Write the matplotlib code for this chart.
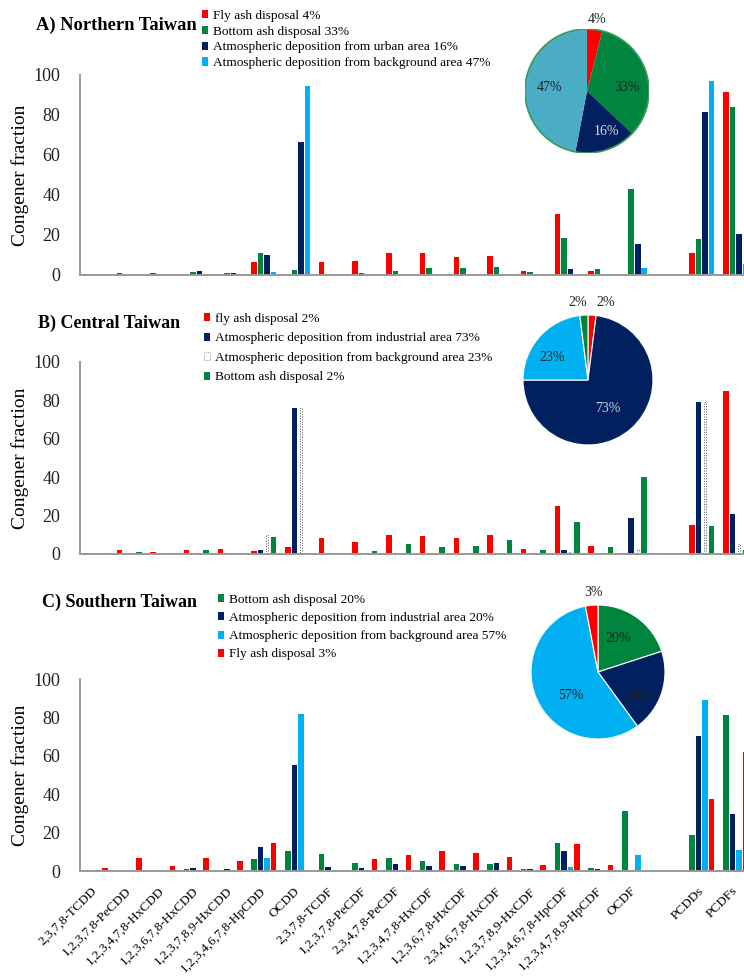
import matplotlib.pyplot as plt
import numpy as np
from matplotlib.patches import Patch, Circle

plt.rcParams['font.family'] = ['Liberation Serif', 'DejaVu Serif']

# ---- data ----
congeners = ['2,3,7,8-TCDD', '1,2,3,7,8-PeCDD', '1,2,3,4,7,8-HxCDD', '1,2,3,6,7,8-HxCDD',
             '1,2,3,7,8,9-HxCDD', '1,2,3,4,6,7,8-HpCDD', 'OCDD', '2,3,7,8-TCDF',
             '1,2,3,7,8-PeCDF', '2,3,4,7,8-PeCDF', '1,2,3,4,7,8-HxCDF', '1,2,3,6,7,8-HxCDF',
             '2,3,4,6,7,8-HxCDF', '1,2,3,7,8,9-HxCDF', '1,2,3,4,6,7,8-HpCDF',
             '1,2,3,4,7,8,9-HpCDF', 'OCDF', 'PCDDs', 'PCDFs']

# A) Northern Taiwan
north_fly = [0.5, 0.8, 1, 0, 0, 6.7, 0, 6.5, 6.8, 11.2, 10.8, 8.8, 9.3, 2, 30.3, 2, 0.3, 10.8, 91.7]
north_bottom = [0, 0, 0, 1.5, 1.2, 11.2, 2.7, 0.3, 1.2, 2.2, 3.7, 3.5, 4.2, 1.5, 18.4, 2.8, 42.8, 17.8, 84]
north_urban = [0, 0.5, 0, 1.8, 1.2, 9.8, 66.5, 0, 0, 0, 0, 0, 0.5, 0, 2.8, 0, 15.6, 81.6, 20.6]
north_bg = [0, 0, 0, 0, 0, 1.7, 94.4, 0, 0, 0, 0, 0, 0, 0, 0.5, 0, 3.4, 96.8, 5.4]
north_share = [4, 33, 16, 47]

# B) Central Taiwan
central_fly = [0.3, 2.0, 1.0, 1.9, 2.7, 1.5, 3.8, 8.4, 6.0, 9.7, 9.4, 8.5, 9.7, 2.7, 24.8, 4.3, 0, 15.2, 85]
central_ind = [0.3, 0, 0, 0.3, 0, 1.9, 76, 0, 0, 0, 0, 0, 0, 0, 2, 0, 18.8, 79, 21]
central_bg = [0, 0, 0, 0, 0, 9.7, 76, 0, 0, 0, 0, 0, 0, 0, 1, 0, 2, 79, 5]
central_bottom = [0, 0.9, 0.3, 2, 0.4, 8.9, 0, 0, 1.7, 5.0, 3.8, 4.1, 7.4, 2.2, 16.9, 3.6, 40, 14.5, 2]
central_share = [2, 73, 23, 2]

# C) Southern Taiwan
south_bottom = [0, 0.3, 0, 0.9, 0.5, 6.1, 10.5, 8.7, 4.4, 7.0, 5.2, 3.5, 3.5, 1, 14.5, 1.7, 31, 19, 81]
south_ind = [0, 0, 0, 1.4, 0.9, 12.4, 55, 1.9, 1.4, 3.5, 2.6, 2.6, 4.4, 0.9, 10.5, 0.9, 0, 70.5, 29.5]
south_bg = [0, 0, 0, 0, 0, 6.6, 82, 0, 0, 0, 0, 0, 0, 0, 2.3, 0, 8.4, 89, 11]
south_fly = [1.4, 6.6, 2.8, 6.6, 5.2, 14.4, 0, 0, 6.1, 8.2, 10.5, 9.6, 7.5, 3.3, 14.2, 3.1, 0, 37.5, 62]
south_share = [20, 20, 57, 3]

RED = '#ff0000'
GREEN = '#00853f'
NAVY = '#002060'
CYAN = '#00b0f0'
STEEL = '#4bacc6'

W, H = 744, 976
fig = plt.figure(figsize=(W / 100, H / 100), dpi=100)


def box(l, t, r, b):
    return [l / W, 1 - b / H, (r - l) / W, (b - t) / H]


pos = np.r_[np.arange(17), 18, 19]
step = 0.193


def bar_panel(rect, series, show_x=False):
    ax = fig.add_axes(rect)
    for k, (vals, color, style) in enumerate(series):
        x = pos + (k - 1.5) * step
        if style == 'dotted':
            ax.bar(x, vals, step * 0.3, color='white', edgecolor='#555555',
                   linestyle=':', linewidth=0.7, clip_on=False)
        else:
            ax.bar(x, vals, step * 0.85, color=color, clip_on=False)
    ax.set_xlim(-0.457, 19.25)
    ax.set_ylim(0, 100)
    ax.set_yticks(range(0, 101, 20))
    ax.tick_params(axis='y', length=0, labelsize=13, pad=14, labelcolor='#222222')
    ax.tick_params(axis='x', length=0)
    for s in ['top', 'right']:
        ax.spines[s].set_visible(False)
    for s in ['left', 'bottom']:
        ax.spines[s].set_color('#999999')
        ax.spines[s].set_linewidth(1.4)
    if show_x:
        ax.set_xticks(pos)
        ax.set_xticklabels(congeners, rotation=45, ha='right', va='center',
                           rotation_mode='anchor', fontsize=9.5)
        ax.tick_params(axis='x', pad=13)
    else:
        ax.set_xticks([])
    r = ax.get_position()
    fig.text(20 / W, r.y0 + r.height / 2, 'Congener fraction', rotation=90,
             ha='center', va='center', fontsize=14)
    return ax


def make_legend(entries, x, y, spacing):
    handles = []
    for color, label, style in entries:
        if style == 'dotted':
            handles.append(Patch(facecolor='white', edgecolor='#777777', linestyle=':',
                                 linewidth=0.6, label=label))
        else:
            handles.append(Patch(facecolor=color, label=label))
    fig.legend(handles=handles, loc='upper left', bbox_to_anchor=(x / W, 1 - y / H),
               frameon=False, fontsize=9.6, handlelength=0.45, handleheight=0.55,
               handletextpad=0.35, labelspacing=spacing, borderpad=0, borderaxespad=0)


def pie_panel(cx, cy, r, shares, colors, labels, label_pos, label_colors, edge, outline=None):
    ax = fig.add_axes(box(cx - r, cy - r, cx + r, cy + r))
    wp = dict(edgecolor=edge, linewidth=0.8) if edge else dict(linewidth=0)
    ax.pie(shares, colors=colors, startangle=90, counterclock=False, radius=1,
           wedgeprops=wp)
    if outline:
        ax.add_patch(Circle((0, 0), 1, fill=False, edgecolor=outline, linewidth=1.2))
    for lab, (lx, ly), lc in zip(labels, label_pos, label_colors):
        ax.text(lx, ly, lab, ha='center', va='center', fontsize=10, color=lc)
    ax.set_xlim(-1, 1)
    ax.set_ylim(-1, 1)
    ax.set_aspect('equal')
    ax.axis('off')


# ---- A) Northern Taiwan ----
bar_panel(box(80, 75, 744, 275), [
    (north_fly, RED, 'bar'),
    (north_bottom, GREEN, 'bar'),
    (north_urban, NAVY, 'bar'),
    (north_bg, CYAN, 'bar'),
])
fig.text(36 / W, 1 - 25 / H, 'A) Northern Taiwan', fontsize=13.3, fontweight='bold', va='center')
make_legend([(RED, 'Fly ash disposal 4%', 'bar'),
             (GREEN, 'Bottom ash disposal 33%', 'bar'),
             (NAVY, 'Atmospheric deposition from urban area 16%', 'bar'),
             (CYAN, 'Atmospheric deposition from background area 47%', 'bar')],
            202, 10, 0.28)
pie_panel(587, 91, 62, north_share, [RED, GREEN, NAVY, STEEL],
          ['4%', '33%', '16%', '47%'],
          [(0.16, 1.16), (0.65, 0.05), (0.32, -0.65), (-0.6, 0.05)],
          ['#222222', '#222222', '#dddddd', '#222222'], None, outline='#3a9a5a')

# ---- B) Central Taiwan ----
bar_panel(box(80, 362, 744, 554), [
    (central_fly, RED, 'bar'),
    (central_ind, NAVY, 'bar'),
    (central_bg, 'white', 'dotted'),
    (central_bottom, GREEN, 'bar'),
])
fig.text(38 / W, 1 - 323 / H, 'B) Central Taiwan', fontsize=13, fontweight='bold', va='center')
make_legend([(RED, 'fly ash disposal 2%', 'bar'),
             (NAVY, 'Atmospheric deposition from industrial area 73%', 'bar'),
             ('white', 'Atmospheric deposition from background area 23%', 'dotted'),
             (GREEN, 'Bottom ash disposal 2%', 'bar')],
            204, 313, 0.56)
pie_panel(588, 380, 65, central_share, [RED, NAVY, CYAN, GREEN],
          ['2%', '73%', '23%', '2%'],
          [(0.27, 1.19), (0.31, -0.44), (-0.55, 0.34), (-0.16, 1.19)],
          ['#222222', '#c9d0e0', '#222222', '#222222'], 'white')

# ---- C) Southern Taiwan ----
bar_panel(box(80, 679, 744, 871), [
    (south_bottom, GREEN, 'bar'),
    (south_ind, NAVY, 'bar'),
    (south_bg, CYAN, 'bar'),
    (south_fly, RED, 'bar'),
], show_x=True)
fig.text(42 / W, 1 - 602 / H, 'C) Southern Taiwan', fontsize=13, fontweight='bold', va='center')
make_legend([(GREEN, 'Bottom ash disposal 20%', 'bar'),
             (NAVY, 'Atmospheric deposition from industrial area 20%', 'bar'),
             (CYAN, 'Atmospheric deposition from background area 57%', 'bar'),
             (RED, 'Fly ash disposal 3%', 'bar')],
            218, 594, 0.46)
pie_panel(598, 672, 67, south_share, [GREEN, NAVY, CYAN, RED],
          ['20%', '20%', '57%', '3%'],
          [(0.3, 0.5), (0.62, -0.35), (-0.4, -0.35), (-0.07, 1.18)],
          ['#222222', '#222222', '#222222', '#222222'], 'white')

fig.savefig('out.png', dpi=100)
